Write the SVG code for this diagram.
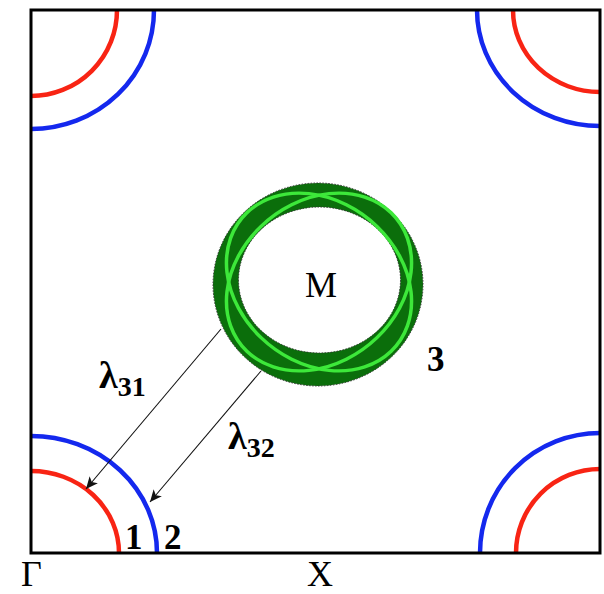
<svg xmlns="http://www.w3.org/2000/svg" width="604" height="594" viewBox="0 0 604 594">
<style>
.red{fill:none;stroke:#f82414;stroke-width:4.5}
.blue{fill:none;stroke:#1428ee;stroke-width:4.5}
.lbl{font-family:"Liberation Serif","Times New Roman",serif;fill:#000}
.b{font-weight:bold}
.arr{stroke:#111;stroke-width:1.1;fill:none;marker-end:url(#ah)}
.gl{fill:none;stroke:#3de83a;stroke-width:3.5}
</style>
<defs>
<marker id="ah" viewBox="0 0 10 10" refX="10" refY="5" markerWidth="12" markerHeight="12" markerUnits="userSpaceOnUse" orient="auto">
<path d="M0,0.5 L10,5 L0,9.5 L2.5,5 Z" fill="#111"/>
</marker>
</defs>
<rect width="604" height="594" fill="#fff"/>
<g id="bands">
<g id="corner-bl"><path class="red" d="M31 471 A88 82 0 0 1 119 553"/><path class="blue" d="M31 436 A126 117 0 0 1 157 553"/></g>
<g id="corner-tl"><path class="red" d="M117 10 A86 86 0 0 1 31 96"/><path class="blue" d="M154 10 A123 119 0 0 1 31 129"/></g>
<g id="corner-tr"><path class="red" d="M513 10 A87 82 0 0 0 600 92"/><path class="blue" d="M477 10 A123 116 0 0 0 600 126"/></g>
<g id="corner-br"><path class="blue" d="M480 553 A120 120 0 0 1 600 433"/><path class="red" d="M516 553 A84 84 0 0 1 600 469"/></g>
</g>
<g id="ring">
<path d="M213 284.5 A105 101.5 0 1 0 423 284.5 A105 101.5 0 1 0 213 284.5 Z M238.5 280 A81 73 0 1 0 400.5 280 A81 73 0 1 0 238.5 280 Z" fill="#0b6e0b" fill-rule="evenodd" stroke="#333" stroke-width="1" stroke-dasharray="1.5 1.5"/>
<g transform="translate(319,282) scale(1,0.96)">
<ellipse class="gl" rx="102" ry="82" transform="rotate(45)"/>
<ellipse class="gl" rx="102" ry="82" transform="rotate(-45)"/>
</g>
<text class="lbl" x="321" y="297" font-size="36" text-anchor="middle">M</text>
</g>
<g id="frame"><path d="M31 10 H600 V553 H31 Z" fill="none" stroke="#000" stroke-width="3"/></g>
<g id="connectors">
<line class="arr" x1="221" y1="329" x2="86" y2="489"/>
<line class="arr" x1="261" y1="371" x2="150" y2="502"/>
</g>
<g id="labels">
<text class="lbl b" x="125" y="549" font-size="35">1</text>
<text class="lbl b" x="164" y="549" font-size="35">2</text>
<text class="lbl b" x="427" y="371" font-size="35">3</text>
<text class="lbl b" x="99" y="388" font-size="38">λ<tspan font-size="28" dy="8">31</tspan></text>
<text class="lbl b" x="228" y="449" font-size="38">λ<tspan font-size="28" dy="8">32</tspan></text>
<text class="lbl" x="21" y="586" font-size="36">Γ</text>
<text class="lbl" x="320" y="586" font-size="36" text-anchor="middle">X</text>
</g>
</svg>
